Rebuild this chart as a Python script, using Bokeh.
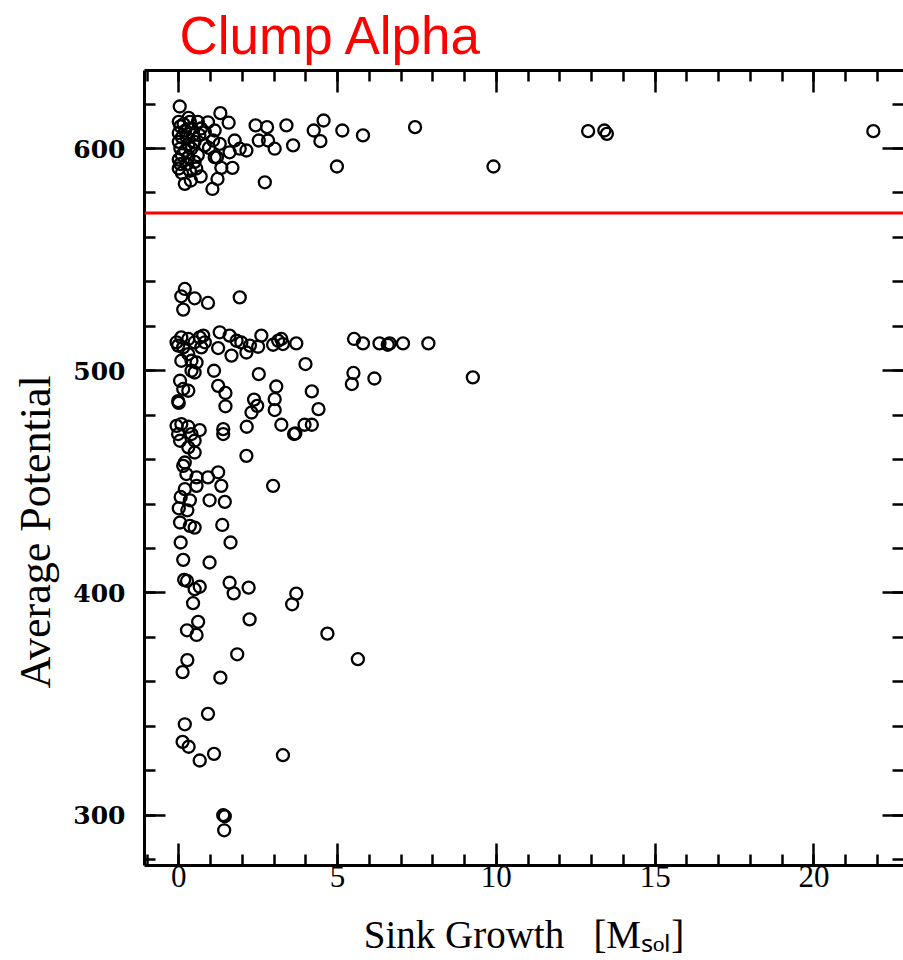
from bokeh.plotting import figure
from bokeh.models import (ColumnDataSource, Range1d, FixedTicker, LinearAxis, Span, Title,
                          CustomJSTickFormatter)
from bokeh.embed import file_html
from bokeh.resources import INLINE

# ---------------- data ----------------
x_major_ticks = [0, 5, 10, 15, 20]
x_minor_ticks = list(range(-1, 23))
y_major_ticks = [300, 400, 500, 600]
y_minor_ticks = list(range(280, 640, 20))

threshold = 571

# top group (above the threshold)
top_x = [0.03, 0.31, 0.92, 1.31, 1.57, 0.82, 1.13, 1.76, 1.08, 0.82, 1.29, 1.60, 1.92, 2.13,
         1.13, 1.34, 1.69, 1.22, 1.06, 0.69, 0.19, 0.38, 2.42, 2.78, 3.39, 2.52, 2.81, 3.02,
         3.60, 2.71, 4.25, 4.56, 4.46, 5.15, 5.80, 4.98, 7.44, 9.91, 12.89, 13.40, 13.48, 21.87,
         0.00, 0.05, 0.00, 0.10, 0.00, 0.05, 0.10, 0.00, 0.05, 0.00, 0.15, 0.20, 0.25, 0.30,
         0.20, 0.30, 0.25, 0.35, 0.40, 0.45, 0.50, 0.40, 0.50, 0.60, 0.55, 0.65, 0.70, 0.10,
         0.35, 0.60, 0.95, 1.20]
top_y = [618.9, 613.8, 611.8, 615.9, 611.6, 607.3, 608.1, 603.6, 603.6, 601.4, 602.1, 598.3, 599.9, 599.1,
         596.1, 591.3, 591.3, 586.3, 581.8, 587.4, 584.1, 585.6, 610.4, 609.6, 610.4, 603.6, 603.6, 599.9,
         601.4, 584.8, 608.1, 612.6, 603.3, 608.1, 605.9, 591.9, 609.6, 591.9, 607.8, 608.1, 606.6, 607.8,
         612.0, 610.0, 607.0, 605.0, 603.0, 600.0, 597.0, 595.0, 593.0, 591.0, 611.0, 608.0, 605.0, 602.0,
         599.0, 596.0, 593.0, 590.0, 609.0, 606.0, 603.0, 600.0, 594.0, 597.0, 591.0, 606.0, 609.0, 589.0,
         612.0, 612.0, 600.3, 596.0]

# lower group (below the threshold)
low_x = [0.19, 0.08, 0.50, 0.92, 0.14, 1.92,
         1.29, 1.60, 2.60, 3.23, 3.70, 2.97, 2.50, 2.24, 1.97, 1.82, 1.24, 1.66, 2.13, 3.13, 3.28,
         5.52, 5.80, 6.32, 6.58, 6.64, 7.06, 7.86,
         -0.07, 0.08, 0.30, 0.14, 0.66, 0.77, 0.82, 0.71, 0.50, -0.02, 0.30, 0.40, 0.08, 0.56,
         0.40, 0.50, 0.04, 0.14, 0.30, -0.02, 0.00,
         3.99, 2.52, 1.11, 3.07, 4.19, 4.40, 5.50, 5.45, 6.16, 9.26, 1.24, 1.47, 1.47, 2.37,
         2.47, 2.29, 3.02, 3.02, 3.23, 3.67, 3.63, 3.96, 4.19, 2.14, 1.40, 1.40, 2.13, 2.97,
         -0.07, 0.08, 0.30, 0.66, -0.02, 0.40, 0.04, 0.50, 0.30, 0.50, 0.19, 0.14, 0.24, 0.56,
         0.92, 1.24, 0.56, 1.34, 0.19, 0.35, 0.97, 1.45, 0.00, 0.27, 0.04, 0.35, 0.50, 1.37, 0.06,
         0.06, 1.63, 0.14, 0.97, 0.17, 0.26, 0.50, 0.66, 1.60, 1.73, 2.20, 0.45, 3.70, 3.57,
         0.61, 0.26, 0.56, 2.23, 4.68, 0.27, 0.12, 1.31, 1.84, 5.64, 0.92, 0.19, 0.12, 0.31,
         1.11, 0.66, 3.28, 1.40, 1.45, 1.43]
low_y = [536.8, 533.5, 532.6, 530.5, 527.5, 533.0,
         517.3, 515.8, 515.8, 514.3, 512.3, 511.7, 510.8, 511.3, 512.7, 513.5, 510.2, 506.8, 508.2, 513.5, 512.0,
         514.3, 512.3, 512.3, 511.7, 512.3, 512.3, 512.3,
         512.8, 515.0, 514.3, 510.5, 515.0, 515.8, 512.8, 510.5, 512.8, 511.3, 507.5, 504.5, 504.5, 503.7,
         500.0, 499.2, 495.5, 491.8, 491.0, 486.3, 485.5,
         503.0, 498.5, 500.0, 492.9, 490.7, 482.7, 499.0, 494.0, 496.5, 497.0, 493.2, 490.0, 484.0, 487.0,
         484.2, 481.2, 487.2, 482.3, 475.7, 471.8, 471.5, 475.7, 475.7, 474.8, 473.7, 471.5, 461.7, 448.2,
         475.2, 476.0, 474.8, 473.3, 471.5, 471.5, 468.5, 468.5, 465.5, 463.2, 458.7, 457.2, 453.5, 452.0,
         452.0, 454.3, 448.2, 448.2, 446.7, 441.7, 441.7, 441.0, 438.1, 437.2, 431.7, 430.2, 429.4, 430.6, 443.2,
         422.7, 422.7, 414.9, 413.7, 405.9, 405.4, 401.7, 402.8, 404.6, 399.8, 402.4, 395.4, 399.7, 394.9,
         387.0, 383.2, 381.1, 388.1, 381.7, 369.8, 364.4, 361.9, 372.4, 370.2, 345.6, 340.9, 333.0, 330.8,
         327.6, 324.6, 327.0, 300.0, 299.5, 293.2]

sink_growth = top_x + low_x
avg_potential = top_y + low_y

# ---------------- figure ----------------
src = ColumnDataSource(data=dict(x=sink_growth, y=avg_potential))

p = figure(width=903, height=960,
           x_range=Range1d(-1.079, 22.82), y_range=Range1d(277.36, 635.1),
           output_backend="svg", toolbar_location=None,
           min_border_left=143, min_border_right=0, min_border_top=70, min_border_bottom=95)
p.grid.visible = False
p.outline_line_color = None
p.background_fill_color = "white"
p.border_fill_color = "white"

p.scatter("x", "y", source=src, marker="circle", size=12, fill_color=None,
          line_color="black", line_width=2.3)

p.add_layout(Span(location=threshold, dimension="width", line_color="#ff0000", line_width=3))


def style_axis(ax, major, minor, maj_len, min_len, labels=True):
    ax.ticker = FixedTicker(ticks=major, minor_ticks=minor)
    ax.major_tick_in = maj_len
    ax.major_tick_out = 0
    ax.minor_tick_in = min_len
    ax.minor_tick_out = 0
    ax.axis_line_width = 3
    ax.axis_line_color = "black"
    ax.major_tick_line_width = 2.5
    ax.minor_tick_line_width = 2.5
    ax.major_tick_line_color = "black"
    ax.minor_tick_line_color = "black"
    if not labels:
        ax.formatter = CustomJSTickFormatter(code="return ''")
        ax.major_label_standoff = 0


xb = p.xaxis[0]
style_axis(xb, x_major_ticks, x_minor_ticks, 22, 11)
xb.major_label_text_font = "Liberation Serif"
xb.major_label_text_font_size = "31px"
xb.major_label_text_color = "black"
xb.major_label_standoff = 0
xb.axis_label = "Sink Growth\u00a0\u00a0\u00a0[M\u209b\u2092\u2097]"
xb.axis_label_text_font = "Liberation Serif"
xb.axis_label_text_font_size = "39px"
xb.axis_label_text_font_style = "normal"
xb.axis_label_text_color = "black"
xb.axis_label_standoff = 23

yl = p.yaxis[0]
style_axis(yl, y_major_ticks, y_minor_ticks, 21, 11)
yl.major_label_text_font = "DejaVu Serif"
yl.major_label_text_font_style = "bold"
yl.major_label_text_font_size = "25px"
yl.major_label_text_color = "black"
yl.major_label_standoff = 19

xt = LinearAxis()
style_axis(xt, x_major_ticks, x_minor_ticks, 22, 11, labels=False)
p.add_layout(xt, "above")

yr = LinearAxis()
style_axis(yr, y_major_ticks, y_minor_ticks, 21, 11, labels=False)
yr.axis_line_color = None
p.add_layout(yr, "right")

# ---------------- texts ----------------
p.add_layout(Title(text="Clump Alpha", align="left", offset=35, standoff=9,
                   vertical_align="middle",
                   text_font="Liberation Sans", text_font_size="53px",
                   text_font_style="normal", text_color="#ff0000"), "above")

p.add_layout(Title(text="Average Potential", align="left", offset=177, standoff=19,
                   vertical_align="middle",
                   text_font="Liberation Serif", text_font_size="44px",
                   text_font_style="normal", text_color="black"), "left")

open("out.html", "w").write(file_html(p, INLINE))
